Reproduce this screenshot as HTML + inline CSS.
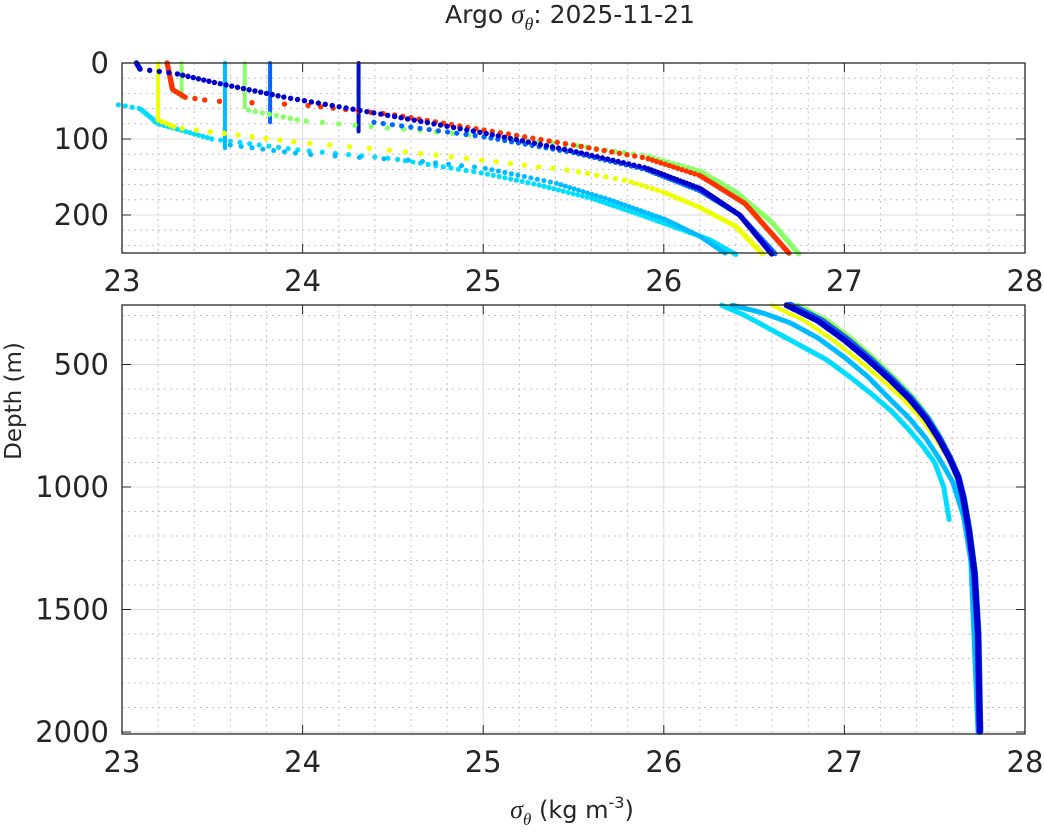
<!DOCTYPE html>
<html><head><meta charset="utf-8"><style>
body{margin:0;background:#fff;}
svg text{font-family:"DejaVu Sans","Liberation Sans",sans-serif;fill:#262626;}
</style></head><body>
<svg id="s" width="1044" height="835" xmlns="http://www.w3.org/2000/svg">
<rect width="1044" height="835" fill="#fff"/>
<g id="g"></g>
<text x="570" y="23" font-size="25" text-anchor="middle">Argo <tspan font-family="Liberation Serif" font-style="italic" font-size="27">σ</tspan><tspan font-family="Liberation Serif" font-style="italic" font-size="18" dy="7">θ</tspan><tspan dy="-7">: 2025-11-21</tspan></text>
<text x="572" y="818" font-size="24" text-anchor="middle"><tspan font-family="Liberation Serif" font-style="italic" font-size="26">σ</tspan><tspan font-family="Liberation Serif" font-style="italic" font-size="17" dy="7">θ</tspan><tspan dy="-7"> (kg m</tspan><tspan font-size="16" dy="-10">-3</tspan><tspan dy="10">)</tspan></text>
<text transform="translate(21,401) rotate(-90)" font-size="23" text-anchor="middle">Depth (m)</text>
</svg>
<script>
const NS="http://www.w3.org/2000/svg",g=document.getElementById('g');
function el(t,a){const e=document.createElementNS(NS,t);for(const k in a)e.setAttribute(k,a[k]);g.appendChild(e);return e;}
const X0=122,X1=1025,sx=v=>X0+(v-23)*(X1-X0)/5;
const T={y0:63,y1:253,f:d=>63+d*0.76};
const B={y0:305,y1:734,f:d=>487+(d-1000)*0.245};
function axes(A,majY,minY){
  for(let v=23.2;v<28;v+=0.2){if(Math.abs(v-Math.round(v))<0.01)continue;el('line',{x1:sx(v),x2:sx(v),y1:A.y0,y2:A.y1,stroke:'#c4c4c4','stroke-dasharray':'2,4','stroke-width':1});}
  minY.forEach(d=>{const y=A.f(d);if(y>A.y0&&y<A.y1)el('line',{x1:X0,x2:X1,y1:y,y2:y,stroke:'#c4c4c4','stroke-dasharray':'2,4'});});
  for(let v=24;v<28;v++)el('line',{x1:sx(v),x2:sx(v),y1:A.y0,y2:A.y1,stroke:'#dcdcdc'});
  majY.forEach(d=>{const y=A.f(d);el('line',{x1:X0,x2:X1,y1:y,y2:y,stroke:'#dcdcdc'});});
}
function frame(A,majY){
  el('rect',{x:X0,y:A.y0,width:X1-X0,height:A.y1-A.y0,fill:'none',stroke:'#262626','stroke-width':1.3});
  for(let v=23;v<=28;v++){const x=sx(v);el('line',{x1:x,x2:x,y1:A.y1,y2:A.y1-9,stroke:'#262626'});el('line',{x1:x,x2:x,y1:A.y0,y2:A.y0+9,stroke:'#262626'});
    const t=el('text',{x:x,y:A.y1+38,'font-size':29,'text-anchor':'middle'});t.textContent=v;}
  majY.forEach(d=>{const y=A.f(d);el('line',{x1:X0,x2:X0+9,y1:y,y2:y,stroke:'#262626'});el('line',{x1:X1,x2:X1-9,y1:y,y2:y,stroke:'#262626'});
    const t=el('text',{x:X0-13,y:y+10,'font-size':29,'text-anchor':'end'});t.textContent=d;});
}
let mt=[];for(let d=20;d<260;d+=20)mt.push(d);
let mb=[];for(let d=300;d<2000;d+=100)mb.push(d);
axes(T,[0,100,200],mt);axes(B,[500,1000,1500,2000],mb);
function interp(nodes,d){for(let i=0;i<nodes.length-1;i++){const a=nodes[i],b=nodes[i+1];if(d>=a[1]&&d<=b[1]){const t=(d-a[1])/(b[1]-a[1]||1);return a[0]+t*(b[0]-a[0]);}}return null;}
function dots(col,nodes,step,r){const dmax=nodes[nodes.length-1][1];for(let d=nodes[0][1];d<=Math.min(dmax,252);d+=step){const v=interp(nodes,d);if(v==null)continue;el('circle',{cx:sx(v),cy:T.f(d),r:r||2.6,fill:col});}}
function vline(col,v,d0,d1,w){el('line',{x1:sx(v),x2:sx(v),y1:T.f(d0),y2:T.f(d1),stroke:col,'stroke-width':w||4,'stroke-linecap':'round'});}
vline('#eeff00',23.2,0,75);vline('#88ff66',23.33,0,45);vline('#88ff66',23.68,0,58);vline('#00bbff',23.57,0,112);vline('#0066ff',23.82,0,78);vline('#0011cc',24.31,0,90);
dots('#00ddff',[[22.98,55],[23.1,60],[23.2,80],[23.5,100],[24,115],[24.5,126],[25,145],[25.3,160],[25.6,178],[25.85,198],[26.05,215],[26.25,232],[26.4,252]],1.6,2.6);
dots('#eeff00',[[23.2,75],[23.3,85],[24,105],[24.5,115],[25,128],[25.5,142],[25.8,155],[26.0,170],[26.2,190],[26.4,215],[26.55,252]],2.2,2.7);
dots('#00bbff',[[23.6,108],[24,120],[24.6,128],[25,138],[25.4,158],[25.7,180],[26.0,205],[26.2,228],[26.35,252]],1.8,2.5);
dots('#88ff66',[[23.7,62],[24,76],[24.5,86],[25,96],[25.5,108],[25.9,122],[26.2,142],[26.4,170],[26.6,210],[26.75,252]],1.8,2.7);
dots('#ff3300',[[23.25,0],[23.28,35],[23.35,45],[23.5,50],[24,55],[24.5,68],[25,88],[25.5,108],[25.9,125],[26.2,148],[26.45,185],[26.7,252]],1.8,2.7);
dots('#0066ff',[[23.82,78],[24.3,75],[25,97],[25.5,118],[25.9,140],[26.2,168],[26.42,200],[26.62,252]],1.6,2.6);
dots('#0000cc',[[23.08,0],[23.1,8],[23.3,14],[23.5,25],[23.9,45],[24.5,70],[25,92],[25.5,116],[25.9,138],[26.2,165],[26.42,200],[26.6,252]],1.6,2.7);
function curve(col,nodes,w){let p='';for(let d=nodes[0][1];d<=nodes[nodes.length-1][1];d+=5){const v=interp(nodes,d);p+=(p?'L':'M')+sx(v).toFixed(1)+','+B.f(d).toFixed(1);}el('path',{d:p,fill:'none',stroke:col,'stroke-width':w,'stroke-linecap':'round','stroke-linejoin':'round'});}
const main=[[26.68,258],[26.85,320],[27.0,400],[27.13,480],[27.25,560],[27.36,640],[27.45,720],[27.52,800],[27.58,880],[27.63,960],[27.66,1050],[27.69,1180],[27.72,1350],[27.74,1600],[27.75,2000]];
function shift(n,dx){return n.map(([v,d])=>[v+dx*Math.max(0,1-(d-258)/700),d]);}
curve('#00ddff',[[26.32,258],[26.45,300],[26.6,360],[26.75,420],[26.9,480],[27.03,550],[27.15,620],[27.26,690],[27.35,760],[27.43,830],[27.5,900],[27.55,1000],[27.58,1135]],5);
curve('#00bbff',[[26.38,258],[26.55,290],[26.7,330],[26.85,390],[27.0,470],[27.13,550],[27.25,640],[27.36,720],[27.45,800],[27.53,890],[27.6,980],[27.66,1120],[27.7,1300],[27.74,2000]],5);
curve('#eeff00',shift(main,-0.08),4);
curve('#88ff66',shift(main,0.06),5);
curve('#ff3300',shift(main,0.04),4);
curve('#0066ff',shift(main,0.02),7);
curve('#0000cc',main,6);
frame(T,[0,100,200]);frame(B,[500,1000,1500,2000]);
</script>
</body></html>
